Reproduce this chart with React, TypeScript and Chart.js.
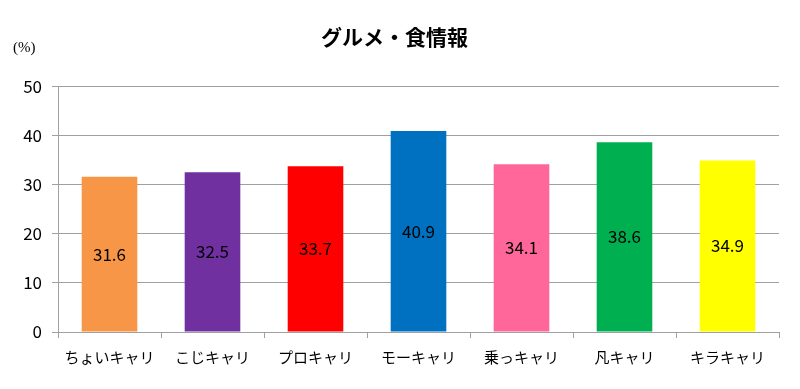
import React, { useEffect, useRef } from "react";
import { Chart, registerables } from "chart.js";

Chart.register(...registerables);

const categories = ["ちょいキャリ", "こじキャリ", "プロキャリ", "モーキャリ", "乗っキャリ", "凡キャリ", "キラキャリ"];
const values = [31.6, 32.5, 33.7, 40.9, 34.1, 38.6, 34.9];
const barColors = ["#F79646", "#7030A0", "#FF0000", "#0070C0", "#FF6699", "#00B050", "#FFFF00"];
const yTicks = [0, 10, 20, 30, 40, 50];
const titleText = "グルメ・食情報";
const unitText = "(%)";

const FONT = "'Noto Sans CJK JP', 'Noto Sans', sans-serif";

const labelPlugin = {
  id: "customLabels",
  afterDatasetsDraw(chart: any) {
    const ctx = chart.ctx;
    const meta = chart.getDatasetMeta(0);
    ctx.save();
    ctx.fillStyle = "#000";
    ctx.font = `17px ${FONT}`;
    ctx.textAlign = "center";
    ctx.textBaseline = "middle";
    meta.data.forEach((bar: any, i: number) => {
      const y = (bar.y + bar.base) / 2;
      ctx.fillText(values[i].toFixed(1), bar.x, y);
    });
    ctx.font = `15px 'Liberation Serif', serif`;
    ctx.textAlign = "left";
    ctx.fillText(unitText, 13, 48);
    ctx.restore();
  },
};

export default function App() {
  const ref = useRef<HTMLCanvasElement>(null);
  useEffect(() => {
    document.body.style.margin = "0";
    const chart = new Chart(ref.current!, {
      type: "bar",
      data: {
        labels: categories,
        datasets: [
          {
            data: values,
            backgroundColor: barColors,
            borderWidth: 0,
            barPercentage: 0.54,
            categoryPercentage: 1,
          },
        ],
      },
      options: {
        animation: false,
        responsive: false,
        layout: { padding: { left: 10, right: 21, top: 0, bottom: 13 } },
        plugins: {
          legend: { display: false },
          tooltip: { enabled: false },
          title: {
            display: true,
            text: titleText,
            color: "#000",
            font: { family: FONT, size: 21, weight: "bold" },
            padding: { top: 24, bottom: 37 },
          },
        },
        scales: {
          x: {
            grid: {
              offset: true,
              drawOnChartArea: false,
              drawTicks: true,
              tickLength: 6,
              color: "#A0A0A0",
            },
            border: { color: "#A0A0A0", width: 1 },
            ticks: { color: "#000", font: { family: FONT, size: 15 }, padding: 10 },
          },
          y: {
            min: 0,
            max: 50,
            afterFit: (axis: any) => {
              axis.width = 48;
            },
            afterBuildTicks: (axis: any) => {
              axis.ticks = yTicks.map((v) => ({ value: v }));
            },
            grid: { color: "#A0A0A0", tickLength: 6 },
            border: { color: "#A0A0A0", width: 1 },
            ticks: { color: "#000", font: { family: FONT, size: 17 }, padding: 10 },
          },
        },
      },
      plugins: [labelPlugin],
    });
    return () => chart.destroy();
  }, []);
  return <canvas ref={ref} width={800} height={389} style={{ display: "block" }} />;
}
